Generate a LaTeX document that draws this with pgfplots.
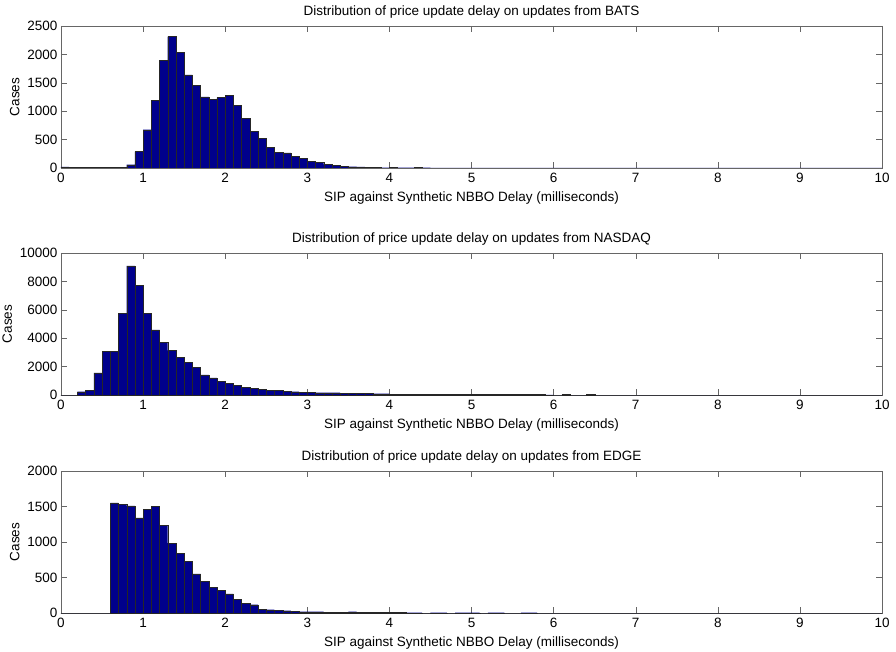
\documentclass[border=0pt]{standalone}
\usepackage{pgfplots}
\pgfplotsset{compat=1.18}
\usepackage{fontspec}
\setmainfont{Liberation Sans}
\definecolor{barblue}{RGB}{0,0,140}
\pgfplotsset{
  hist/.style={
    width=821pt, height=142pt, scale only axis,
    xmin=0, xmax=10, ymin=0,
    xtick={0,1,...,10},
    tick align=inside, major tick length=6pt,
    axis line style={black!60}, every tick/.style={black!60},
    tick label style={font=\fontsize{13.5}{15}\selectfont},
    label style={font=\fontsize{13.5}{15}\selectfont},
    title style={font=\fontsize{13.5}{15}\selectfont, yshift=-2pt},
    xlabel={SIP against Synthetic NBBO Delay (milliseconds)},
    ylabel={Cases},
    xlabel style={yshift=-2pt},
    ylabel style={yshift=1pt},
    scaled y ticks=false,
    /pgf/number format/set thousands separator={},
    /pgf/number format/assume math mode=true,
    xticklabel style={yshift=-2pt},
  },
  bars/.style={ybar interval, fill=barblue, draw=black!85, line width=0.3pt},
}
\begin{document}
\begin{tikzpicture}
\path[use as bounding box] (-61pt,26pt) rectangle (835pt,-626pt);
% BATS
\begin{axis}[hist, at={(0,0)}, anchor=north west, ymax=2500, ytick={0,500,...,2500},
  title={Distribution of price update delay on updates from BATS}]
\addplot[bars] coordinates {
(0.0,20)(0.1,12)(0.2,12)(0.3,12)(0.4,12)(0.5,12)(0.6,12)(0.7,15)(0.8,58)(0.9,290)
(1.0,675)(1.1,1190)(1.2,1895)(1.3,2313)(1.4,2040)(1.5,1640)(1.6,1460)(1.7,1250)(1.8,1210)(1.9,1240)
(2.0,1280)(2.1,1105)(2.2,880)(2.3,640)(2.4,525)(2.5,360)(2.6,280)(2.7,267)(2.8,200)(2.9,165)
(3.0,122)(3.1,99)(3.2,64)(3.3,46)(3.4,35)(3.5,23)(3.6,18)(3.7,12)(3.8,8)(3.9,5)
(4.0,8)(4.1,5)(4.2,5)(4.3,10)(4.4,5)(4.5,3)(4.6,3)(4.7,0)(4.8,3)(4.9,3)
(5.0,0)(5.1,3)(5.2,3)(5.3,0)(5.4,3)(5.5,0)(5.6,3)(5.7,3)(5.8,0)(5.9,3)
(6.0,0)(6.1,3)(6.2,3)(6.3,0)(6.4,3)(6.5,3)(6.6,0)(6.7,3)(6.8,3)(6.9,3)
(7.0,0)(7.1,3)(7.2,3)(7.3,3)(7.4,0)(7.5,3)(7.6,3)(7.7,3)(7.8,3)(7.9,3)
(8.0,0)(8.1,3)(8.2,3)(8.3,3)(8.4,3)(8.5,3)(8.6,0)(8.7,3)(8.8,3)(8.9,0)
(9.0,3)(9.1,3)(9.2,0)(9.3,0)(9.4,0)(9.5,0)(9.6,3)(9.7,0)(9.8,3)(9.9,3)
(10.0,0)};
\end{axis}
% NASDAQ
\begin{axis}[hist, at={(0,-227pt)}, anchor=north west, ymax=10000, ytick={0,2000,...,10000},
  title={Distribution of price update delay on updates from NASDAQ}]
\addplot[bars] coordinates {
(0.0,0)(0.1,0)(0.2,230)(0.3,325)(0.4,1560)(0.5,3090)(0.6,3090)(0.7,5745)(0.8,9095)(0.9,7745)
(1.0,5745)(1.1,4580)(1.2,3720)(1.3,3140)(1.4,2675)(1.5,2280)(1.6,1930)(1.7,1420)(1.8,1210)(1.9,955)
(2.0,815)(2.1,675)(2.2,560)(2.3,490)(2.4,395)(2.5,350)(2.6,325)(2.7,280)(2.8,230)(2.9,210)
(3.0,210)(3.1,160)(3.2,160)(3.3,160)(3.4,115)(3.5,115)(3.6,100)(3.7,100)(3.8,90)(3.9,90)
(4.0,70)(4.1,60)(4.2,35)(4.3,30)(4.4,30)(4.5,30)(4.6,30)(4.7,30)(4.8,30)(4.9,60)
(5.0,60)(5.1,50)(5.2,60)(5.3,25)(5.4,25)(5.5,25)(5.6,25)(5.7,25)(5.8,25)(5.9,10)
(6.0,0)(6.1,25)(6.2,0)(6.3,0)(6.4,30)(6.5,0)(6.6,0)(6.7,0)(6.8,0)(6.9,0)
(7.0,0)(7.1,0)(7.2,0)(7.3,0)(7.4,0)(7.5,0)(7.6,0)(7.7,0)(7.8,0)(7.9,0)
(8.0,0)(8.1,0)(8.2,0)(8.3,0)(8.4,0)(8.5,0)(8.6,0)(8.7,0)(8.8,0)(8.9,0)
(9.0,0)(9.1,0)(9.2,0)(9.3,0)(9.4,0)(9.5,0)(9.6,0)(9.7,0)(9.8,0)(9.9,0)
(10.0,0)};
\end{axis}
% EDGE
\begin{axis}[hist, at={(0,-445pt)}, anchor=north west, ymax=2000, ytick={0,500,...,2000},
  title={Distribution of price update delay on updates from EDGE}]
\addplot[bars] coordinates {
(0.0,0)(0.1,0)(0.2,0)(0.3,0)(0.4,0)(0.5,0)(0.6,1550)(0.7,1532)(0.8,1508)(0.9,1340)
(1.0,1457)(1.1,1499)(1.2,1238)(1.3,985)(1.4,836)(1.5,728)(1.6,551)(1.7,444)(1.8,364)(1.9,318)
(2.0,271)(2.1,191)(2.2,135)(2.3,117)(2.4,56)(2.5,47)(2.6,42)(2.7,33)(2.8,23)(2.9,19)
(3.0,19)(3.1,19)(3.2,10)(3.3,10)(3.4,10)(3.5,19)(3.6,6)(3.7,6)(3.8,6)(3.9,6)
(4.0,8)(4.1,6)(4.2,4)(4.3,4)(4.4,0)(4.5,4)(4.6,4)(4.7,0)(4.8,4)(4.9,4)
(5.0,4)(5.1,0)(5.2,4)(5.3,4)(5.4,0)(5.5,0)(5.6,4)(5.7,4)(5.8,0)(5.9,0)
(6.0,0)(6.1,0)(6.2,0)(6.3,0)(6.4,0)(6.5,0)(6.6,0)(6.7,0)(6.8,0)(6.9,0)
(7.0,0)(7.1,0)(7.2,0)(7.3,0)(7.4,0)(7.5,0)(7.6,0)(7.7,0)(7.8,0)(7.9,0)
(8.0,0)(8.1,0)(8.2,0)(8.3,0)(8.4,0)(8.5,0)(8.6,0)(8.7,0)(8.8,0)(8.9,0)
(9.0,0)(9.1,0)(9.2,0)(9.3,0)(9.4,0)(9.5,0)(9.6,0)(9.7,0)(9.8,0)(9.9,0)
(10.0,0)};
\end{axis}
\end{tikzpicture}
\end{document}
